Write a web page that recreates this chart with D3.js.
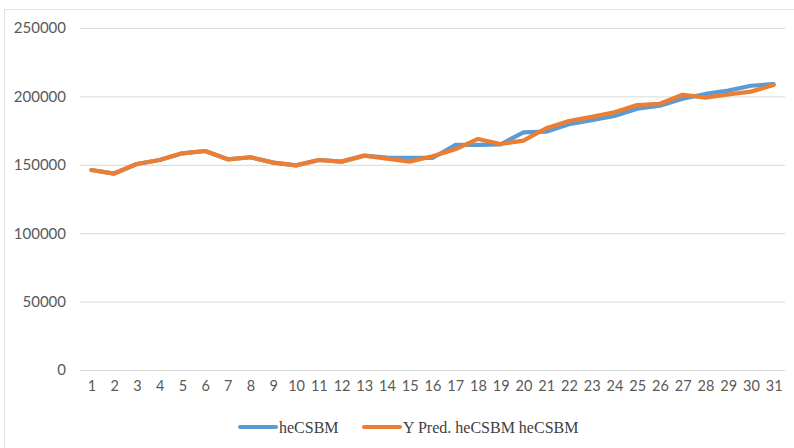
<!DOCTYPE html>
<html>
<head>
<meta charset="utf-8">
<script src="https://cdn.jsdelivr.net/npm/d3@7/dist/d3.min.js"></script>
<style>
  html, body { margin: 0; padding: 0; background: #ffffff; }
  svg { display: block; }
</style>
</head>
<body>
<svg id="chart" width="794" height="448"></svg>
<script>
// Observation index 1..31
const categories = d3.range(1, 32);

// Actual series
const heCSBM = [
  146200, 143600, 150600, 153500, 158400, 160100, 154000, 155500, 151600, 149600,
  153500, 152300, 156700, 155300, 155000, 155000, 164500, 164500, 165000, 173700,
  174200, 179600, 182700, 185700, 191000, 193200, 198300, 201800, 204200, 207800,
  209000
];

// Predicted series
const predHeCSBM = [
  146200, 143600, 150600, 153500, 158400, 160100, 154000, 155500, 151600, 149600,
  153500, 152300, 156700, 154500, 152300, 156200, 161300, 168900, 165200, 167700,
  176700, 182000, 185000, 188400, 193700, 194600, 201200, 199100, 201400, 203500,
  208300
];

const yTicks = [0, 50000, 100000, 150000, 200000, 250000];
const seriesNames = ["heCSBM", "Y Pred. heCSBM heCSBM"];
const seriesColors = ["#5B9BD5", "#ED7D31"];

const svg = d3.select("#chart");

// Chart area frame
svg.append("rect")
  .attr("x", 4.5).attr("y", 9.5)
  .attr("width", 800).attr("height", 460)
  .attr("fill", "none")
  .attr("stroke", "#e3e3e3")
  .attr("stroke-width", 1);

const plot = { left: 80, right: 785, top: 28, bottom: 370 };

const x = d3.scalePoint()
  .domain(categories)
  .range([plot.left, plot.right])
  .padding(0.5);

const y = d3.scaleLinear()
  .domain([0, 250000])
  .range([plot.bottom, plot.top]);

const tickFont = "Lato, 'Open Sans', sans-serif";

// Value axis with gridlines
const yAxis = svg.append("g")
  .attr("transform", `translate(${plot.left},0)`)
  .call(d3.axisLeft(y)
    .tickValues(yTicks)
    .tickFormat(d3.format("d"))
    .tickSize(-(plot.right - plot.left))
    .tickPadding(14));
yAxis.select(".domain").remove();
yAxis.selectAll(".tick line").attr("stroke", "#d9d9d9").attr("stroke-width", 1);
yAxis.selectAll(".tick text")
  .attr("fill", "#595959")
  .style("font-family", tickFont)
  .style("font-size", "15px");

// Category axis
const xAxis = svg.append("g")
  .attr("transform", `translate(0,${plot.bottom})`)
  .call(d3.axisBottom(x).tickSize(0).tickPadding(11));
xAxis.select(".domain").remove();
xAxis.selectAll(".tick text")
  .attr("fill", "#595959")
  .style("font-family", tickFont)
  .style("font-size", "14.5px");

// Series lines
const line = d3.line()
  .x((d, i) => x(categories[i]))
  .y(d => y(d));

[heCSBM, predHeCSBM].forEach((values, k) => {
  svg.append("path")
    .datum(values)
    .attr("fill", "none")
    .attr("stroke", seriesColors[k])
    .attr("stroke-width", 4.2)
    .attr("stroke-linejoin", "round")
    .attr("stroke-linecap", "round")
    .attr("d", line);
});

// Legend
const legendY = 427;
const legendItems = [
  { x: 240, name: seriesNames[0], color: seriesColors[0] },
  { x: 364, name: seriesNames[1], color: seriesColors[1] }
];
const lg = svg.append("g");
legendItems.forEach(item => {
  lg.append("line")
    .attr("x1", item.x).attr("x2", item.x + 36)
    .attr("y1", legendY).attr("y2", legendY)
    .attr("stroke", item.color)
    .attr("stroke-width", 4)
    .attr("stroke-linecap", "round");
  lg.append("text")
    .attr("x", item.x + 39)
    .attr("y", legendY)
    .attr("dy", "0.35em")
    .attr("fill", "#404040")
    .style("font-family", "'Liberation Serif', 'Times New Roman', serif")
    .style("font-size", "16px")
    .text(item.name);
});
</script>
</body>
</html>
